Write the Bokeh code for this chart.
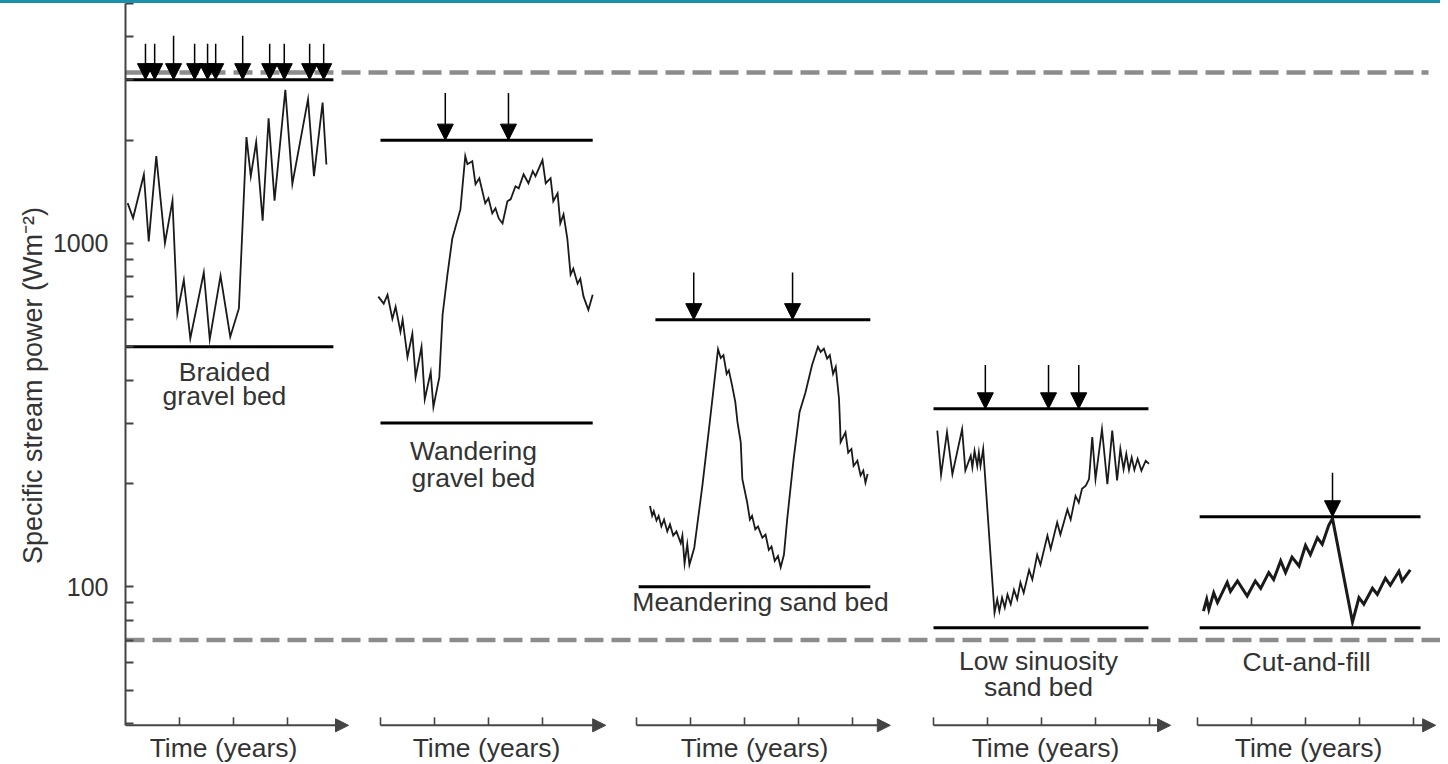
import math
from bokeh.plotting import figure
from bokeh.models import Range1d, FixedTicker, NumeralTickFormatter, Arrow, NormalHead, ColumnDataSource
from bokeh.core.properties import value
from bokeh.embed import file_html
from bokeh.resources import INLINE

# ---------------- data (time in arbitrary "year" ticks, power in W m-2) ----------------
panel_names = ["Braided gravel bed", "Wandering gravel bed", "Meandering sand bed",
               "Low sinuosity sand bed", "Cut-and-fill"]

p1_t = [0.04, 0.14, 0.34, 0.43, 0.57, 0.73, 0.87, 0.96, 1.08, 1.2, 1.45, 1.56, 1.76, 1.94, 2.1,
        2.24, 2.32, 2.42, 2.54, 2.65, 2.76, 2.96, 3.09, 3.38, 3.49, 3.65, 3.72]
p1_v = [1311, 1186, 1588, 1014, 1797, 1002, 1333, 626, 783, 529, 823, 526, 805, 535, 647,
        2041, 1570, 1974, 1165, 2316, 1333, 2802, 1491, 2632, 1570, 2572, 1699]

p2_t = [-0.04, 0.06, 0.13, 0.22, 0.28, 0.37, 0.41, 0.5, 0.59, 0.65, 0.76, 0.82, 0.93, 0.98, 1.09,
        1.15, 1.24, 1.33, 1.48, 1.57, 1.61, 1.7, 1.76, 1.83, 1.94, 2.0, 2.07, 2.13, 2.19, 2.26,
        2.35, 2.41, 2.5, 2.56, 2.65, 2.74, 2.82, 2.87, 3.0, 3.06, 3.15, 3.2, 3.28, 3.33, 3.39,
        3.46, 3.52, 3.57, 3.65, 3.7, 3.76, 3.85, 3.93]
p2_v = [700, 668, 709, 603, 654, 553, 600, 467, 546, 408, 500, 352, 422, 334, 408,
        620, 812, 1034, 1257, 1797, 1702, 1737, 1488, 1549, 1309, 1354, 1224, 1266, 1183, 1144,
        1327, 1345, 1468, 1448, 1591, 1498, 1624, 1570, 1749, 1498, 1549, 1327, 1400, 1144, 1216,
        1034, 812, 845, 764, 790, 700, 641, 709]

p3_t = [0.25, 0.29, 0.32, 0.37, 0.41, 0.46, 0.51, 0.57, 0.62, 0.68, 0.74, 0.82, 0.85, 0.89, 0.94,
        0.98, 1.07, 1.22, 1.36, 1.51, 1.56, 1.61, 1.67, 1.71, 1.77, 1.83, 1.87, 1.93, 1.96, 2.05,
        2.1, 2.14, 2.2, 2.25, 2.33, 2.39, 2.45, 2.5, 2.56, 2.62, 2.67, 2.73, 2.79, 2.91, 3.02,
        3.13, 3.25, 3.36, 3.41, 3.47, 3.53, 3.58, 3.64, 3.69, 3.75, 3.77, 3.78, 3.87, 3.92, 3.98,
        4.02, 4.09, 4.15, 4.2, 4.24, 4.28]
p3_v = [172, 161, 166, 156, 161, 150, 157, 145, 152, 141, 145, 134, 141, 117, 133,
        116, 130, 197, 305, 492, 464, 473, 417, 427, 386, 345, 302, 264, 206, 176,
        157, 161, 147, 150, 139, 142, 128, 131, 119, 123, 114, 124, 157, 236, 323,
        369, 442, 500, 483, 494, 462, 473, 417, 437, 353, 295, 264, 282, 246, 252,
        225, 233, 211, 218, 201, 213]

p4_t = [0.07, 0.14, 0.25, 0.35, 0.53, 0.59, 0.69, 0.72, 0.76, 0.81, 0.84, 0.87, 0.92, 1.13, 1.18,
        1.22, 1.27, 1.32, 1.37, 1.43, 1.49, 1.55, 1.61, 1.67, 1.77, 1.83, 1.92, 1.98, 2.11, 2.17,
        2.29, 2.35, 2.48, 2.54, 2.63, 2.69, 2.75, 2.82, 2.88, 2.94, 3.0, 3.12, 3.22, 3.31, 3.4,
        3.46, 3.52, 3.57, 3.62, 3.67, 3.72, 3.78, 3.85, 3.93, 3.99]
p4_v = [285, 212, 282, 213, 288, 218, 241, 223, 249, 225, 246, 225, 252, 84, 92,
        85, 93, 87, 95, 89, 98, 92, 103, 96, 112, 105, 124, 116, 141, 129,
        154, 142, 168, 157, 184, 176, 193, 197, 206, 273, 206, 288, 199, 285, 204,
        252, 220, 244, 219, 238, 219, 236, 218, 233, 228]

p5_t = [0.11, 0.17, 0.21, 0.3, 0.37, 0.55, 0.61, 0.74, 0.92, 1.07, 1.17, 1.32, 1.41, 1.54, 1.63,
        1.75, 1.88, 2.0, 2.09, 2.22, 2.31, 2.43, 2.5, 2.87, 2.99, 3.08, 3.24, 3.33, 3.48, 3.57,
        3.73, 3.79, 3.94]
p5_v = [85, 92, 86, 96, 90, 103, 97, 104, 94, 104, 99, 110, 105, 119, 110,
        122, 115, 132, 124, 139, 133, 151, 158, 79, 93, 89, 99, 95, 106, 101,
        111, 104, 112]

# upper / lower stream-power limits of each river style
upper_limit = [3000, 2000, 600, 330, 160]
lower_limit = [500, 300, 100, 76, 76]

# times of threshold-crossing events (arrows) and arrow top values
events_t = [[0.37, 0.54, 0.89, 1.28, 1.52, 1.67, 2.17, 2.67, 2.94, 3.41, 3.67],
            [1.2, 2.37], [1.06, 2.89], [0.96, 2.13, 2.69], [2.5]]
events_top = [[3818, 3818, 4030, 3818, 3818, 3818, 4030, 3818, 3818, 3818, 3818],
              [2745, 2745], [823, 823], [443, 443, 443], [215]]

# regional thresholds (dashed)
threshold_upper = 3150
threshold_lower = 70

# y axis ticks
y_major = [100, 1000]
y_minor = [40, 50, 60, 70, 80, 90, 200, 300, 400, 500, 600, 700, 800, 900,
           2000, 3000, 4000, 5000]

# ---------------- layout (positions) ----------------
PX_PER_YEAR = 54.0
FRAME_W = 1315
offsets = [0.0, 4.722, 9.463, 14.963, 19.852]         # start of each time axis
limit_span = [(0.0, 3.85), (0.0, 3.93), (0.04, 4.33), (0.0, 3.98), (0.04, 4.13)]
upper_span_p3_start = 0.35
axis_tip = [4.13, 4.17, 4.7, 4.39, 4.41]
axis_ticks = [[1, 2, 3], [0, 1, 2, 3], [0, 1, 2, 3, 4], [0, 1, 2, 3, 4], [0, 1, 2, 3, 4]]
AXIS_BASE = 39.5
Y_TOP = 5000
time_label_x = [1.815, 1.963, 2.185, 2.074, 2.056]
TIME_LABEL_Y = 34.0
name_labels = [
    [("Braided", 1.833, 422), ("gravel bed", 1.833, 359)],
    [("Wandering", 1.722, 248), ("gravel bed", 1.722, 208)],
    [("Meandering sand bed", 2.296, 90.4)],
    [("Low sinuosity", 1.944, 60.8), ("sand bed", 1.944, 51)],
    [("Cut-and-fill", 2.02, 60.6)],
]

FONT = value("Liberation Sans")
TXT = "#333333"
AX = "#444444"

p = figure(width=1440, height=761,
           x_range=Range1d(0, FRAME_W / PX_PER_YEAR), y_range=Range1d(29.77, Y_TOP),
           y_axis_type="log", x_axis_location=None,
           output_backend="svg", toolbar_location=None,
           min_border_left=125, min_border_right=0, min_border_top=0, min_border_bottom=0)
p.styles = {"border-top": "3px solid #1b8fab", "box-sizing": "content-box"}
p.outline_line_color = None
p.xgrid.visible = False
p.ygrid.visible = False
p.background_fill_color = "white"

ya = p.yaxis[0]
ya.ticker = FixedTicker(ticks=y_major, minor_ticks=y_minor)
ya.formatter = NumeralTickFormatter(format="0")
ya.bounds = (AXIS_BASE, Y_TOP)
ya.axis_line_color = AX
ya.axis_line_width = 2
ya.major_tick_in = 8
ya.major_tick_out = 0
ya.minor_tick_in = 8
ya.minor_tick_out = 0
ya.major_tick_line_color = AX
ya.minor_tick_line_color = AX
ya.major_tick_line_width = 2
ya.minor_tick_line_width = 2
ya.major_label_text_font = "Liberation Sans"
ya.major_label_text_font_size = "25px"
ya.major_label_text_color = TXT
ya.major_label_standoff = 17
ya.axis_label = "Specific stream power (Wm\u207b\u00b2)"
ya.axis_label_text_font = "Liberation Sans"
ya.axis_label_text_font_size = "27px"
ya.axis_label_text_font_style = "normal"
ya.axis_label_text_color = TXT
ya.axis_label_standoff = 2

# dashed regional thresholds
p.segment(x0=[0, 0], x1=[1303 / PX_PER_YEAR, FRAME_W / PX_PER_YEAR],
          y0=[threshold_upper, threshold_lower], y1=[threshold_upper, threshold_lower],
          line_color="#8c8c8c", line_width=4.5, line_dash="19 8")

series = [(p1_t, p1_v), (p2_t, p2_v), (p3_t, p3_v), (p4_t, p4_v), (p5_t, p5_v)]
for i, (ts, vs) in enumerate(series):
    off = offsets[i]
    # limit lines
    s0, s1 = limit_span[i]
    us0 = upper_span_p3_start if i == 2 else s0
    p.segment(x0=[off + us0, off + s0], x1=[off + s1, off + s1],
              y0=[upper_limit[i], lower_limit[i]], y1=[upper_limit[i], lower_limit[i]],
              line_color="black", line_width=3)
    # stream power series
    p.line([off + t for t in ts], vs, line_color="#1a1a1a",
           line_width=3 if i == 4 else 1.8, line_join="miter")
    # event arrows
    src = ColumnDataSource(dict(x=[off + t for t in events_t[i]], y0=events_top[i],
                                y1=[upper_limit[i]] * len(events_t[i])))
    p.add_layout(Arrow(end=NormalHead(size=16, fill_color="black", line_color="black", line_width=1),
                       x_start="x", y_start="y0", x_end="x", y_end="y1",
                       line_color="black", line_width=1.5, source=src))
    # time axis
    p.add_layout(Arrow(end=NormalHead(size=13, fill_color=AX, line_color=AX, line_width=1),
                       x_start=off, y_start=AXIS_BASE, x_end=off + axis_tip[i], y_end=AXIS_BASE,
                       line_color=AX, line_width=2))
    p.ray(x=[off + k for k in axis_ticks[i]], y=[AXIS_BASE] * len(axis_ticks[i]),
          length=8, length_units="screen", angle=math.pi / 2, line_color=AX, line_width=1.6)
    # labels
    p.text(x=[off + time_label_x[i]], y=[TIME_LABEL_Y], text=["Time (years)"],
           text_font=FONT, text_font_size="26.5px", text_color=TXT,
           text_align="center", text_baseline="middle")
    for (txt, lx, ly) in name_labels[i]:
        p.text(x=[off + lx], y=[ly], text=[txt], text_font=FONT, text_font_size="26.5px",
               text_color=TXT, text_align="center", text_baseline="middle")

open("out.html", "w").write(file_html(p, INLINE))
